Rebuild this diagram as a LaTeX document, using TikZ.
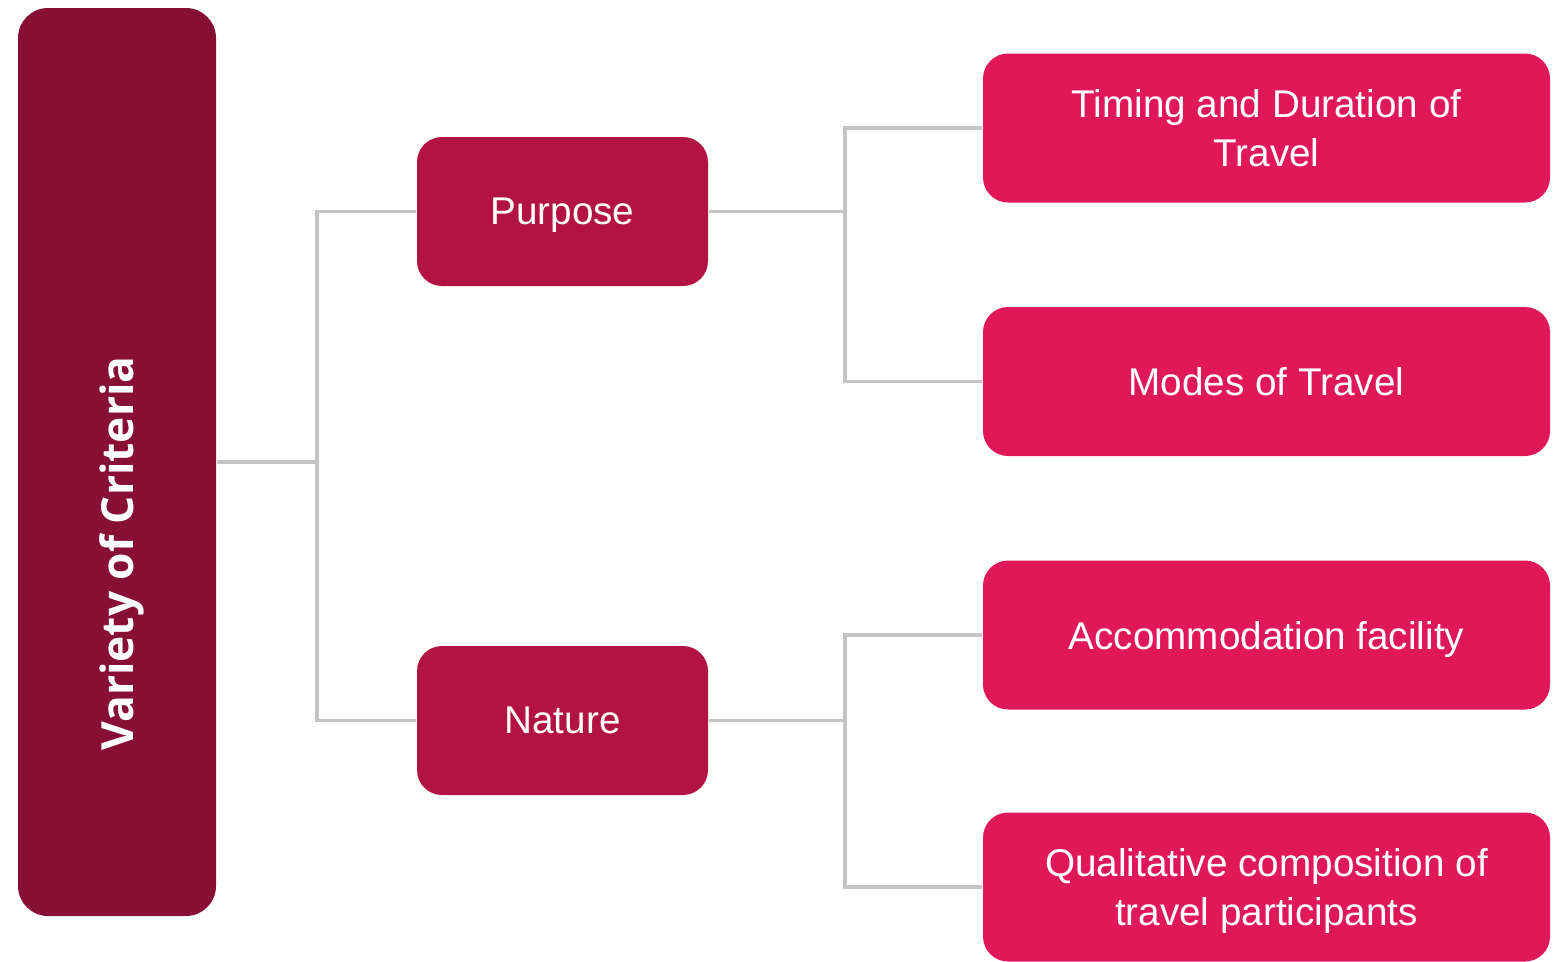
\documentclass[tikz,border=0pt]{standalone}
\usepackage{fontspec}
\setmainfont{Liberation Sans}
\newfontfamily\boldsans{Open Sans}
\usepackage{xcolor}
\usepackage{tikz}
\usetikzlibrary{positioning}
\definecolor{rootred}{HTML}{870E34}
\definecolor{midred}{HTML}{B31245}
\definecolor{leafred}{HTML}{E0185A}
\definecolor{linkgray}{HTML}{C4C4C4}
\tikzset{
    rootbox/.style={rectangle, rounded corners=0.3cm, minimum width=1.98cm, minimum height=9.08cm, fill=rootred},
    midbox/.style={rectangle, rounded corners=0.25cm, minimum width=2.91cm, minimum height=1.49cm, text depth=0pt, text centered, fill=midred, text=white, font=\fontsize{11}{13.7}\selectfont},
    leafbox/.style={rectangle, rounded corners=0.25cm, minimum width=5.67cm, minimum height=1.49cm, text depth=0pt, align=center, fill=leafred, text=white, font=\fontsize{11}{13.7}\selectfont},
    link/.style={draw=linkgray, line width=0.9pt}
}

\begin{document}
\begin{tikzpicture}
    \useasboundingbox (0,0) rectangle (15.6,-9.61);
    \node (crit) [rootbox] at (1.17,-4.62) {};
    \node (critlabel) [rotate=90, text=white, font=\boldsans\bfseries\fontsize{12.6}{15}\selectfont] at (1.22,-5.535) {Variety of Criteria};
    \node (purpose) [midbox] at (5.625,-2.115) {Purpose};
    \node (nature) [midbox] at (5.625,-7.205) {Nature};
    \node (timing) [leafbox] at (12.665,-1.28) {Timing and Duration of\\Travel};
    \node (modes) [leafbox] at (12.665,-3.815) {Modes of Travel};
    \node (accom) [leafbox] at (12.665,-6.35) {Accommodation facility};
    \node (quali) [leafbox] at (12.665,-8.87) {Qualitative composition of\\travel participants};

    \coordinate (j1) at (3.17,-4.62);
    \coordinate (j2) at (8.45,-2.115);
    \coordinate (j3) at (8.45,-7.205);

    \draw [link] (crit.east) -- (j1);
    \draw [link] (purpose.west) -| (j1) |- (nature.west);
    \draw [link] (purpose.east) -- (j2);
    \draw [link] (timing.west) -| (j2) |- (modes.west);
    \draw [link] (nature.east) -- (j3);
    \draw [link] (accom.west) -| (j3) |- (quali.west);
\end{tikzpicture}
\end{document}
